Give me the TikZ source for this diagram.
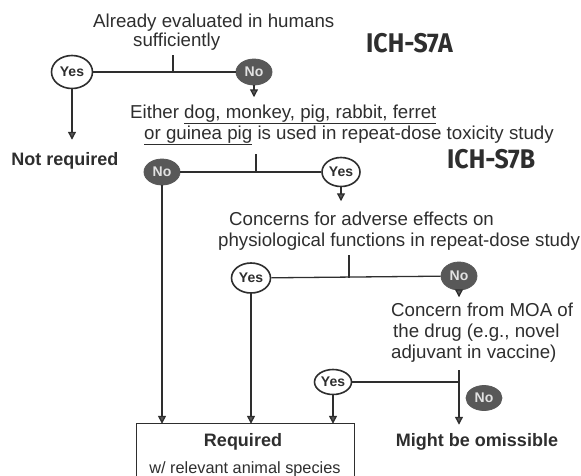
\documentclass[tikz,border=0pt]{standalone}
\usepackage{fontspec}
\setmainfont{Liberation Sans}
\newfontfamily\ichfont{Fira Sans}
\usetikzlibrary{shapes.geometric,arrows.meta}
\definecolor{ink}{HTML}{2E2E2E}
\definecolor{nofill}{HTML}{585858}
\definecolor{notext}{HTML}{E2E2E2}
\newcommand{\ichtext}[1]{\scalebox{0.92}[1]{#1}}
\begin{document}
\begin{tikzpicture}[x=1pt,y=-1pt,
  ln/.style={draw=ink, line width=1.3pt},
  arr/.style={ln, -{Triangle[width=8pt,length=8pt,fill=nofill]}},
  txt/.style={font=\fontsize{18.7}{21}\selectfont, inner sep=0pt, text=ink},
  btxt/.style={font=\fontsize{18}{21}\selectfont\bfseries, inner sep=0pt, text=ink},
  small/.style={font=\fontsize{16.3}{20}\selectfont, inner sep=0pt, text=ink},
  ich/.style={font=\fontsize{27}{30}\ichfont\bfseries, inner sep=0pt, text=ink},
  yesc/.style={ellipse, draw=ink, line width=1.6pt, fill=white, inner sep=0pt,
    font=\fontsize{14}{16}\selectfont\bfseries, text=ink},
  noc/.style={ellipse, draw=ink!80, line width=0.8pt, fill=nofill, inner sep=0pt,
    font=\fontsize{14}{16}\selectfont\bfseries, text=notext},
  boxst/.style={rectangle, draw=none, inner sep=0pt, minimum width=217pt, minimum height=56pt}
]
\useasboundingbox (0,0) rectangle (581,475);

% texts
\node[txt, anchor=base west] (Q1a) at (93,27) {Already evaluated in humans};
\node[txt, anchor=base west] (Q1b) at (133,46) {sufficiently};
\node[ich, anchor=base west] (S7A) at (366,52) {\ichtext{ICH-S7A}};
\node[ich, anchor=base west] (S7B) at (447,168) {\ichtext{ICH-S7B}};
\node[txt, anchor=base west, align=left] (Q2) at (130,139)
  {Either \underline{dog, monkey, pig, rabbit, ferret}\\
   \hspace*{14pt}\underline{or guinea pig} is used in repeat-dose toxicity study};
\node[txt, anchor=base west, align=left] (Q3) at (218,246)
  {\hspace*{11pt}Concerns for adverse effects on\\
   physiological functions in repeat-dose study};
\node[txt, anchor=base west, align=left] (Q4) at (391,358)
  {Concern from MOA of\\ \hspace*{2pt}the drug (e.g., novel\\ adjuvant in vaccine)};
\node[btxt, anchor=base] (NR) at (65,165) {Not required};
\node[btxt, anchor=base] (MBO) at (477,446) {Might be omissible};

% box
\node[boxst] (Box) at (245.5,452) {};
\node[btxt, anchor=base] (Req) at (243,446) {Required};
\node[small, anchor=base] (Rel) at (245,473) {w/ relevant animal species};

% coordinates on the branch lines
\coordinate (t1) at (173,72);
\coordinate (t2) at (256,172);
\coordinate (t3) at (349,278);
\coordinate (t4) at (459,382);

% circles
\node[yesc, minimum width=41pt, minimum height=33pt] (Yes1) at (72,72) {Yes};
\node[noc, minimum width=36pt, minimum height=26pt] (No1) at (254,72) {No};
\node[noc, minimum width=36pt, minimum height=26pt] (No2) at (162,172) {No};
\node[yesc, minimum width=38pt, minimum height=29pt] (Yes2) at (341,172) {Yes};
\node[yesc, minimum width=39pt, minimum height=30pt] (Yes3) at (251,278) {Yes};
\node[noc, minimum width=36pt, minimum height=28pt] (No3) at (459,276) {No};
\node[yesc, minimum width=37pt, minimum height=25pt] (Yes4) at (333,382) {Yes};
\node[noc, minimum width=36pt, minimum height=25pt] (No4) at (484,398) {No};

% box edges (bottom lies below the page)
\draw[ln] (Box.south west) -- (Box.north west) -- (Box.north east) -- (Box.south east);

% branch lines
\draw[ln] (Yes1) -- (No1);
\draw[ln] ([yshift=-5pt]Q1b.south -| t1) -- (t1);
\draw[ln] (No2) -- (Yes2);
\draw[ln] ([yshift=-9pt]Q2.south -| t2) -- (t2);
\draw[ln] (Yes3) -- (No3);
\draw[ln] ([yshift=-5pt]Q3.south -| t3) -- (t3);
\draw[ln] (Yes4) -- (t4);

% arrows
\draw[arr] (Yes1) -- ([yshift=12pt]NR.north -| Yes1);
\draw[arr] (No1) -- ([yshift=7pt]Q2.north -| No1);
\draw[arr] (Yes2) -- ([yshift=10pt]Q3.north -| Yes2);
\draw[arr] (No3) -- ([yshift=5pt]Q4.north -| No3);
\draw[arr] ([yshift=-8pt]Q4.south -| t4) -- ([yshift=8pt]MBO.north -| t4);
\draw[arr] (No2) -- (No2 |- Box.north);
\draw[arr] (Yes3) -- (Yes3 |- Box.north);
\draw[arr] (Yes4) -- (Yes4 |- Box.north);
\end{tikzpicture}
\end{document}
